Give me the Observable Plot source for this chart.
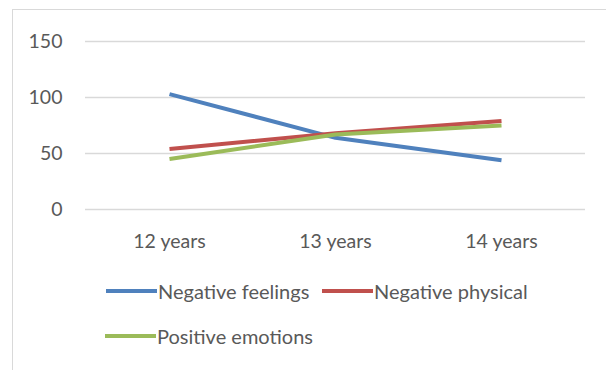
<!DOCTYPE html>
<html>
<head>
<meta charset="utf-8">
<script src="https://cdn.jsdelivr.net/npm/d3@7"></script>
<script src="https://cdn.jsdelivr.net/npm/@observablehq/plot@0.6"></script>
<style>
  html, body { margin: 0; padding: 0; background: #fff; }
  body { width: 606px; height: 370px; position: relative; overflow: hidden; font-family: Lato, "Open Sans", sans-serif; }
  #frame { position: absolute; left: 12px; top: 9px; width: 620px; height: 400px; border-left: 1.5px solid #d9d9d9; border-top: 1.5px solid #d9d9d9; }
  #chart { position: absolute; left: 0; top: 0; }
  .legend-item { position: absolute; display: flex; align-items: center; font-size: 20px; color: #595959; height: 24px; }
  .legend-item .swatch { width: 51px; height: 4px; margin-right: 1px; }
</style>
</head>
<body>
<div id="frame"></div>
<div id="chart"></div>
<div id="legend"></div>
<script>
// Survey scores by age group
const categories = ["12 years", "13 years", "14 years"];
const negativeFeelings = [103, 64, 44];
const negativePhysical = [54, 68, 79];
const positiveEmotions = [45, 67, 75];
const yTicks = [0, 50, 100, 150];

const seriesNames = ["Negative feelings", "Negative physical", "Positive emotions"];
const seriesValues = [negativeFeelings, negativePhysical, positiveEmotions];
const seriesColors = ["#4f81bd", "#c0504d", "#9bbb59"];

const rows = seriesNames.flatMap((name, i) =>
  categories.map((age, j) => ({series: name, age, value: seriesValues[i][j]}))
);

const chart = Plot.plot({
  width: 606,
  height: 260,
  marginLeft: 85,
  marginRight: 21,
  marginTop: 41,
  marginBottom: 51,
  style: {fontFamily: "Lato, 'Open Sans', sans-serif", fontSize: "19.5px", color: "#595959", background: "transparent"},
  x: {type: "point", domain: categories, padding: 0.5, label: null},
  y: {domain: [0, 150], label: null},
  color: {domain: seriesNames, range: seriesColors},
  marks: [
    Plot.ruleY(yTicks, {stroke: "#d9d9d9", strokeWidth: 1.5}),
    Plot.axisY({ticks: yTicks, tickSize: 0, tickPadding: 23, fill: "#595959", fontSize: 19.5}),
    Plot.axisX({tickSize: 0, tickPadding: 25, fill: "#595959", fontSize: 19.5}),
    Plot.line(rows, {x: "age", y: "value", z: "series", stroke: "series", strokeWidth: 4, strokeLinecap: "butt"})
  ]
});
document.getElementById("chart").appendChild(chart);

// Legend laid out in two rows below the chart
const legendPositions = [[106, 279], [322, 279], [105, 324]];
const legend = document.getElementById("legend");
seriesNames.forEach((name, i) => {
  const item = document.createElement("div");
  item.className = "legend-item";
  item.style.left = legendPositions[i][0] + "px";
  item.style.top = legendPositions[i][1] + "px";
  const sw = document.createElement("span");
  sw.className = "swatch";
  sw.style.background = seriesColors[i];
  const label = document.createElement("span");
  label.textContent = name;
  item.appendChild(sw);
  item.appendChild(label);
  legend.appendChild(item);
});
</script>
</body>
</html>
